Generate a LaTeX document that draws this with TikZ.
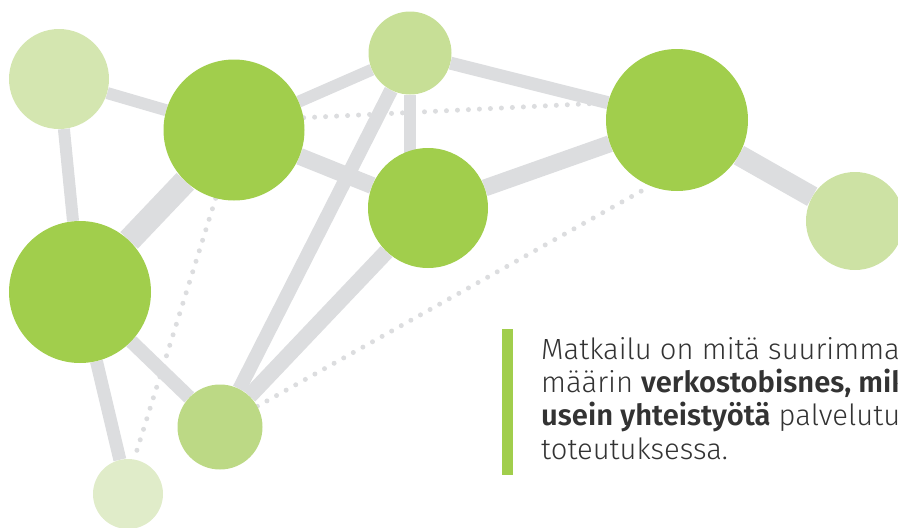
\documentclass[tikz,border=0pt]{standalone}
\usepackage{fontspec}
\setmainfont{Fira Sans Light}[BoldFont={Fira Sans SemiBold}]
\usetikzlibrary{backgrounds}

\definecolor{leaf}{HTML}{A1CE4C}
\definecolor{leafA}{HTML}{D4E6B0}
\definecolor{leafC}{HTML}{C7DF96}
\definecolor{leafF}{HTML}{CDE2A4}
\definecolor{leafH}{HTML}{BCD985}
\definecolor{leafI}{HTML}{E0ECC9}
\definecolor{linkgray}{HTML}{DCDDDF}
\definecolor{textgray}{HTML}{333333}

\tikzset{
  bubble/.style={circle,inner sep=0pt,draw=none,fill=#1},
  link/.style={draw=linkgray,line width=#1},
  hint/.style={draw=linkgray,line width=5pt,line cap=round,dash pattern=on 0pt off 11pt}
}

\begin{document}
\begin{tikzpicture}[x=1pt,y=-1pt]
\useasboundingbox (0,0) rectangle (898,528);

% verkoston solmut
\node[bubble=leafA,minimum size=100pt] (A) at (59,79) {};
\node[bubble=leaf,minimum size=141pt] (B) at (234,130) {};
\node[bubble=leafC,minimum size=83pt] (C) at (410,53) {};
\node[bubble=leaf,minimum size=120pt] (D) at (428,208) {};
\node[bubble=leaf,minimum size=142pt] (E) at (677,120) {};
\node[bubble=leafF,minimum size=98pt] (F) at (855,221) {};
\node[bubble=leaf,minimum size=142pt] (G) at (80,292) {};
\node[bubble=leafH,minimum size=85pt] (H) at (220,427) {};
\node[bubble=leafI,minimum size=70pt] (I) at (128,494) {};
\coordinate (CD) at (C |- D);

% yhteydet
\begin{scope}[on background layer]
\draw[link=12pt] (A) -- (B);
\draw[link=12pt] (A) -- (G);
\draw[link=24pt] (B) -- (G);
\draw[link=12pt] (B) -- (C);
\draw[link=17pt] (B) -- (D);
\draw[link=12pt] (C) -- (CD);
\draw[link=13pt] (C) -- (E);
\draw[link=17pt] (D) -- (E);
\draw[link=21pt] (E) -- (F);
\draw[link=14pt] (C) -- (H);
\draw[link=16pt] (D) -- (H);
\draw[link=14pt] (G) -- (H);
\draw[link=13pt] (G) -- (I);
\draw[hint] (B.10) -- (E.166);
\draw[hint] (B.255) -- (I.80);
\draw[hint] (H.29) -- (E.248);
\end{scope}

% teksti
\fill[leaf] (502,329) rectangle (513,475);
\begin{scope}
\clip (0,0) rectangle (898,528);
\node[anchor=base west,align=left,inner sep=0pt,text=textgray,
  font=\fontsize{29.2pt}{33.3pt}\selectfont] (txt) at (541,459)
  {Matkailu on mitä suurimmassa\\
   määrin \textbf{verkostobisnes, mikä vaatii}\\
   \textbf{usein yhteistyötä} palvelutuotteiden\\
   toteutuksessa.};
\end{scope}
\end{tikzpicture}
\end{document}
